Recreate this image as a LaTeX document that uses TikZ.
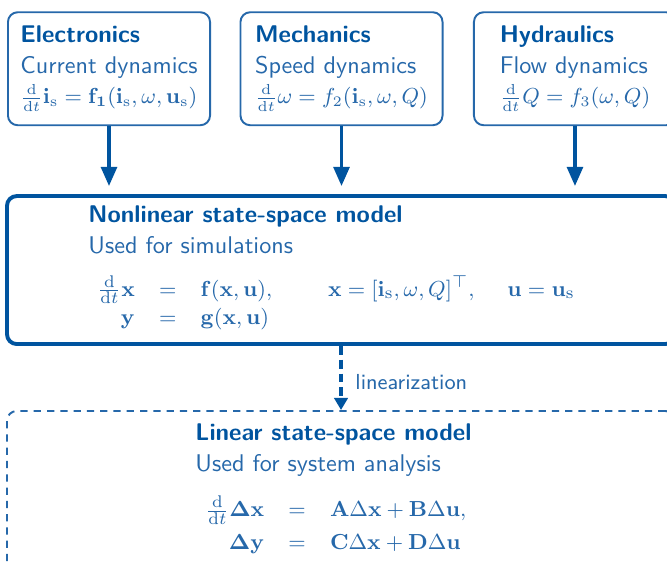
\documentclass[tikz,border=0pt]{standalone}
\usepackage{amsmath}
\usetikzlibrary{arrows.meta}

\definecolor{rwthblue}{RGB}{0,84,159}
\definecolor{rwthbluemid}{RGB}{38,104,170}

\begin{document}
\begin{tikzpicture}[
  font=\sffamily,
  every node/.style={text=rwthbluemid},
  domainbox/.style={draw=rwthbluemid, line width=0.8pt, rounded corners=4pt,
    minimum width=2.94cm, minimum height=1.644cm, align=left,
    font=\sffamily\fontsize{10}{12.6}\selectfont},
  title/.style={anchor=base west, inner sep=0pt, text=rwthblue, font=\sffamily\bfseries},
  subtitle/.style={anchor=base west, inner sep=0pt},
  eqn/.style={anchor=west, inner sep=0pt, font=\fontsize{9.5}{11.6}\selectfont},
  flow/.style={draw=rwthblue, line width=1.6pt,
    -{Triangle[length=8pt,width=6.5pt]}, shorten >=3.3pt}
]

  \useasboundingbox (0,0) rectangle (9.705,-8.221);

  \node[domainbox] (elec) at (1.586,-1.000)
    {\textcolor{rwthblue}{\textbf{Electronics}}\\Current dynamics\\
     {\fontsize{9}{11}\selectfont$\frac{\mathrm{d}}{\mathrm{d}t}\mathbf{i}_\mathrm{s}=\mathbf{f_1}(\mathbf{i}_\mathrm{s},\omega,\mathbf{u}_\mathrm{s})$}};
  \node[domainbox] (mech) at (4.969,-1.000)
    {\textcolor{rwthblue}{\textbf{Mechanics}}\\Speed dynamics\\
     {\fontsize{9}{11}\selectfont$\frac{\mathrm{d}}{\mathrm{d}t}\omega=f_2(\mathbf{i}_\mathrm{s},\omega,Q)$}};
  \node[domainbox] (hydr) at (8.366,-1.000)
    {\textcolor{rwthblue}{\textbf{Hydraulics}}\\Flow dynamics\\
     {\fontsize{9}{11}\selectfont$\frac{\mathrm{d}}{\mathrm{d}t}Q=f_3(\omega,Q)$}};

  \node[draw=rwthblue, line width=1.6pt, rounded corners=4pt,
    minimum width=9.72cm, minimum height=2.153cm] (nonlin) at (4.962,-3.929) {};
  \node[title] (nltitle) at (1.280,-3.230) {Nonlinear state-space model};
  \node[subtitle] (nlsub) at (1.280,-3.681) {Used for simulations};
  \node[eqn] (nleq) at (1.237,-4.423)
    {$\begin{array}{rcl}
      \frac{\mathrm{d}}{\mathrm{d}t}\mathbf{x} & = & \mathbf{f}(\mathbf{x},\mathbf{u}),\qquad\;
        \mathbf{x}=[\mathbf{i}_\mathrm{s},\omega,Q]^\top,\quad\; \mathbf{u}=\mathbf{u}_\mathrm{s}\\
      \mathbf{y} & = & \mathbf{g}(\mathbf{x},\mathbf{u})
    \end{array}$};

  \draw[flow] (elec) -- (elec |- nonlin.north);
  \draw[flow] (mech) -- (mech |- nonlin.north);
  \draw[flow] (hydr) -- (hydr |- nonlin.north);

  \node[draw=rwthbluemid, line width=0.8pt, dash pattern=on 3pt off 2.5pt, rounded corners=4pt,
    minimum width=9.72cm, minimum height=2.91cm] (lin) at (4.962,-7.435) {};
  \node[title] (lintitle) at (2.837,-6.402) {Linear state-space model};
  \node[subtitle] (linsub) at (2.837,-6.853) {Used for system analysis};
  \node[eqn] (lineq) at (2.808,-7.668)
    {$\begin{array}{rcl}
      \frac{\mathrm{d}}{\mathrm{d}t}\boldsymbol{\Delta}\mathbf{x} & = & \mathbf{A}\Delta\mathbf{x}+\mathbf{B}\Delta\mathbf{u},\\[2pt]
      \boldsymbol{\Delta}\mathbf{y} & = & \mathbf{C}\Delta\mathbf{x}+\mathbf{D}\Delta\mathbf{u}
    \end{array}$};

  \draw[draw=rwthblue, line width=1.6pt, dash pattern=on 3.7pt off 2pt,
    -{Triangle[length=5pt,width=5.5pt]}] (nonlin) -- (lin);
  \node[subtitle, font=\sffamily\small] (linlabel) at (5.165,-5.674) {linearization};

\end{tikzpicture}
\end{document}
